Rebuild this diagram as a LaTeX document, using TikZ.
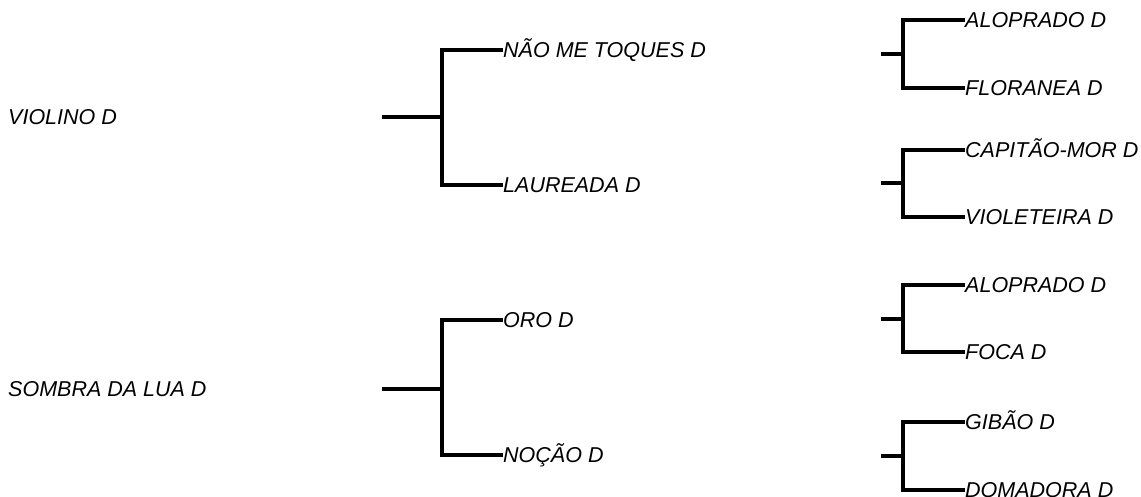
\documentclass[tikz,border=0pt]{standalone}
\usepackage{fontspec}
\setmainfont{Liberation Sans}
\tikzset{
  tag/.style={anchor=west,inner sep=0pt,text height=15pt,text depth=0pt,
    font=\fontsize{21.5}{25}\selectfont\itshape},
  link/.style={line width=3.2pt}
}
\begin{document}
\begin{tikzpicture}[x=1pt,y=-1pt]
  \useasboundingbox (0,0) rectangle (1141,497);

  % Roots
  \node[tag] (violino) at (8,117) {VIOLINO D};
  \node[tag] (sombra) at (8,389) {SOMBRA DA LUA D};

  % First generation
  \node[tag] (naome) at (503,50) {NÃO ME TOQUES D};
  \node[tag] (laureada) at (503,185) {LAUREADA D};
  \node[tag] (oro) at (503,320) {ORO D};
  \node[tag] (nocao) at (503,455) {NOÇÃO D};

  \foreach \n/\y/\a/\b in {sa/117/naome/laureada, sb/389/oro/nocao} {
    \coordinate (\n) at (382,\y);
    \coordinate (\n j) at (442,\y);
    \draw[link] (\n) -- (\n j);
    \draw[link] (\a.west) -| (\n j) |- (\b.west);
  }

  % Second generation
  \node[tag] (alo1) at (965,20) {ALOPRADO D};
  \node[tag] (floranea) at (965,88) {FLORANEA D};
  \node[tag] (capitao) at (965,150) {CAPITÃO-MOR D};
  \node[tag] (violeteira) at (965,217) {VIOLETEIRA D};
  \node[tag] (alo2) at (965,285) {ALOPRADO D};
  \node[tag] (foca) at (965,352) {FOCA D};
  \node[tag] (gibao) at (965,422) {GIBÃO D};
  \node[tag] (domadora) at (965,490) {DOMADORA D};

  \foreach \n/\y/\a/\b in {ta/54/alo1/floranea, tb/183/capitao/violeteira,
      tc/319/alo2/foca, td/456/gibao/domadora} {
    \coordinate (\n) at (881,\y);
    \coordinate (\n j) at (903,\y);
    \draw[link] (\n) -- (\n j);
    \draw[link] (\a.west) -| (\n j) |- (\b.west);
  }
\end{tikzpicture}
\end{document}
